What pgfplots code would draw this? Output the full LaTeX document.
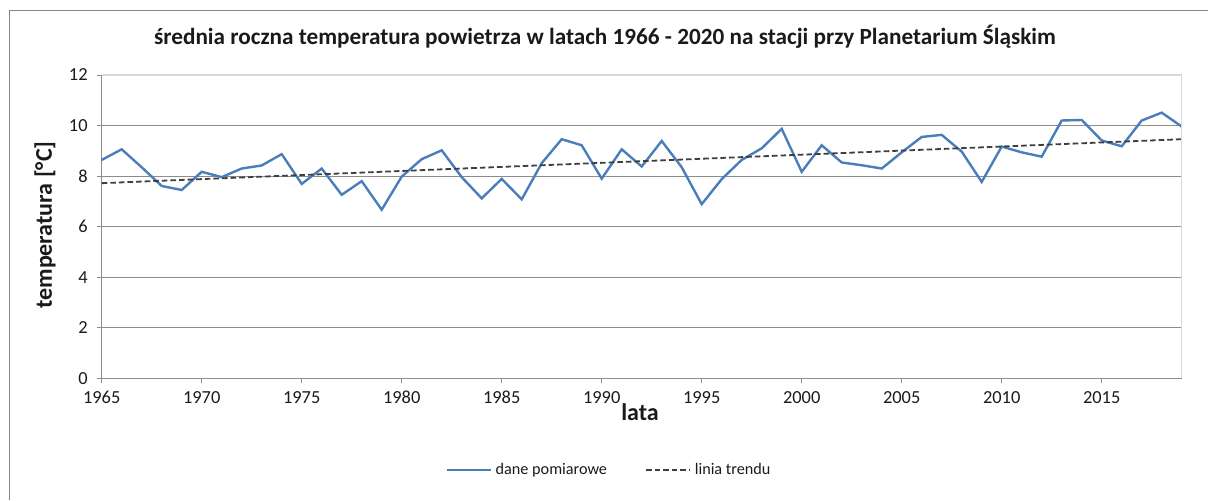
\documentclass[border=0pt]{standalone}
\usepackage{pgfplots}
\pgfplotsset{compat=1.18}
\usepackage{fontspec}
\setmainfont{Carlito}
\definecolor{lineblue}{HTML}{4A7EBB}
\definecolor{trendgray}{HTML}{3F3F3F}
\definecolor{gridgray}{HTML}{8C8C8C}
\definecolor{framegray}{HTML}{868686}
\definecolor{txt}{HTML}{1A1A1A}
\begin{document}
\begin{tikzpicture}
\useasboundingbox (0pt,0pt) rectangle (604pt,250pt);
\draw[framegray, line width=0.6pt] (4.75pt,0pt) -- (4.75pt,244.75pt) -- (604pt,244.75pt);
\begin{axis}[
  at={(50.85pt,60.85pt)}, anchor=south west,
  scale only axis, width=540pt, height=151.65pt,
  xmin=1965, xmax=2019, ymin=0, ymax=12,
  xtick={1965,1970,...,2015}, ytick={0,2,...,12},
  /pgf/number format/.cd, 1000 sep={}, assume math mode=true, /pgfplots/.cd,
  axis lines=left, axis line style={gridgray, line width=0.5pt, -},
  tick align=outside, major tick length=2.5pt,
  tick style={gridgray, line width=0.5pt},
  ymajorgrids, major grid style={gridgray, line width=0.5pt},
  ticklabel style={font=\fontsize{9.2}{10}\selectfont, text=txt},
  xticklabel style={yshift=-0.5pt},
  yticklabel style={xshift=-1pt},
  legend style={at={(0.4705,-0.302)}, anchor=center, draw=none, fill=none,
    legend columns=2, font=\fontsize{8.1}{9}\selectfont, text=txt,
    /tikz/every even column/.append style={column sep=17pt},
    /tikz/every odd column/.append style={inner xsep=1pt}},
  legend image code/.code={\draw[#1] (0pt,0pt) -- (22pt,0pt);},
  legend cell align=left,
  clip=false,
]
\addplot[lineblue, line width=1.2pt] coordinates {
(1965,8.64)(1966,9.06)(1967,8.35)(1968,7.61)(1969,7.45)(1970,8.17)(1971,7.96)(1972,8.30)(1973,8.42)(1974,8.87)
(1975,7.69)(1976,8.30)(1977,7.26)(1978,7.80)(1979,6.67)(1980,7.98)(1981,8.67)(1982,9.02)(1983,7.96)(1984,7.12)
(1985,7.89)(1986,7.08)(1987,8.51)(1988,9.46)(1989,9.22)(1990,7.90)(1991,9.06)(1992,8.38)(1993,9.39)(1994,8.35)
(1995,6.89)(1996,7.88)(1997,8.64)(1998,9.10)(1999,9.87)(2000,8.17)(2001,9.22)(2002,8.54)(2003,8.43)(2004,8.30)
(2005,8.94)(2006,9.55)(2007,9.63)(2008,8.97)(2009,7.77)(2010,9.17)(2011,8.94)(2012,8.77)(2013,10.20)(2014,10.22)
(2015,9.41)(2016,9.18)(2017,10.20)(2018,10.51)(2019,9.96)
};
\addlegendentry{dane pomiarowe}
\addplot[trendgray, line width=0.9pt, dash pattern=on 2.8pt off 1.5pt] coordinates {(1965,7.72)(2019,9.46)};
\addlegendentry{linia trendu}
\draw[gray!30, line width=0.6pt] (rel axis cs:0,1) -- (rel axis cs:1,1) -- (rel axis cs:1,0);
\end{axis}
\node[font=\bfseries\fontsize{11.6}{13}\selectfont, text=txt] at (302.5pt,231.5pt) {średnia roczna temperatura powietrza w latach 1966 - 2020 na stacji przy Planetarium Śląskim};
\node[font=\bfseries\fontsize{12}{13}\selectfont, text=txt, rotate=90] at (22.5pt,137.5pt) {temperatura [°C]};
\node[font=\bfseries\fontsize{12}{13}\selectfont, text=txt] at (320pt,44pt) {lata};
\end{tikzpicture}
\end{document}
